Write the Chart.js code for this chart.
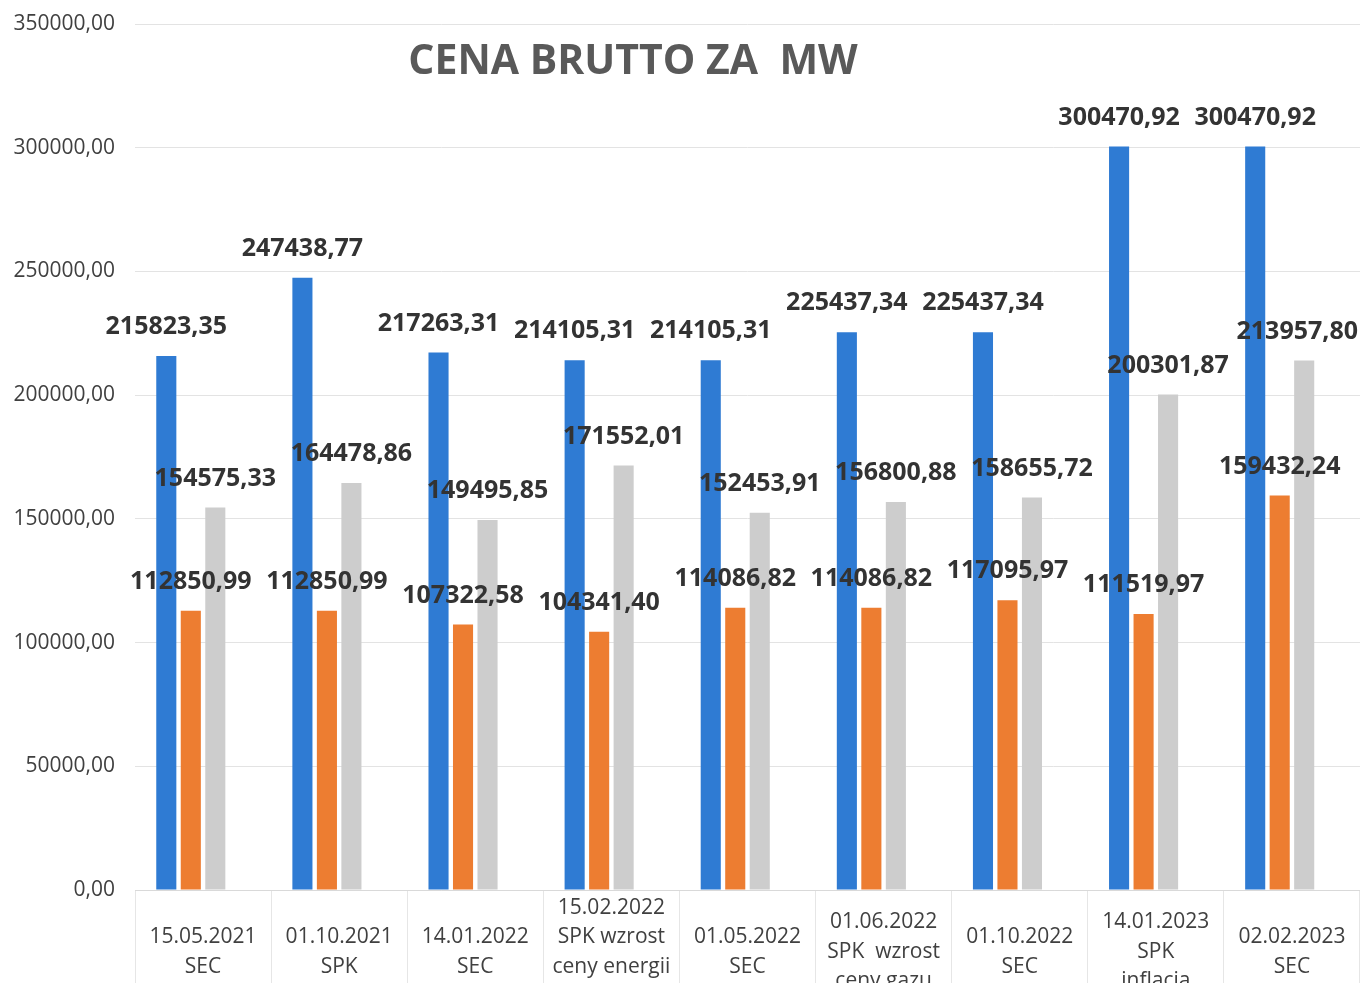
<!DOCTYPE html>
<html lang="pl">
<head>
<meta charset="utf-8">
<title>CENA BRUTTO ZA MW</title>
<script src="https://cdn.jsdelivr.net/npm/chart.js@4"></script>
<style>
    html, body { margin: 0; padding: 0; background: #fff; }
    #wrap { width: 1360px; height: 983px; }
</style>
</head>
<body>
<div id="wrap"><canvas id="barChart"></canvas></div>
<script>
/* ============================================================
   Dane
   ============================================================ */
const kategorie = [
    ['15.05.2021', 'SEC'],
    ['01.10.2021', 'SPK'],
    ['14.01.2022', 'SEC'],
    ['15.02.2022', 'SPK wzrost', 'ceny energii', ''],
    ['01.05.2022', 'SEC'],
    ['01.06.2022', 'SPK  wzrost', 'ceny gazu'],
    ['01.10.2022', 'SEC'],
    ['14.01.2023', 'SPK', 'inflacja'],
    ['02.02.2023', 'SEC']
];
const seriaNiebieska = [215823.35, 247438.77, 217263.31, 214105.31, 214105.31, 225437.34, 225437.34, 300470.92, 300470.92];
const seriaPomaranczowa = [112850.99, 112850.99, 107322.58, 104341.40, 114086.82, 114086.82, 117095.97, 111519.97, 159432.24];
const seriaSzara = [154575.33, 164478.86, 149495.85, 171552.01, 152453.91, 156800.88, 158655.72, 200301.87, 213957.80];
const seriaPusta = [];   // czwarta (pusta) seria z arkusza - zajmuje miejsce w grupie
const yTicks = [0, 50000, 100000, 150000, 200000, 250000, 300000, 350000];
const tytul = 'CENA BRUTTO ZA  MW';

const fmt = v => v.toFixed(2).replace('.', ',');

/* ============================================================
   Plugin - tytul, etykiety danych, etykiety osi
   ============================================================ */
const rysujTeksty = {
    id: 'rysujTeksty',
    afterDatasetsDraw(chart) {
        const ctx = chart.ctx;
        const area = chart.chartArea;
        ctx.save();
        ctx.textBaseline = 'middle';

        // etykiety osi Y
        const ys = chart.scales.y;
        ctx.font = '21px "Open Sans"';
        ctx.fillStyle = '#404040';
        ctx.textAlign = 'right';
        yTicks.forEach(v => ctx.fillText(fmt(v), area.left - 20, ys.getPixelForValue(v)));

        // tytul
        ctx.textAlign = 'center';
        ctx.font = 'bold 41px "Open Sans"';
        ctx.fillStyle = '#595959';
        ctx.fillText(tytul, 633, 62);

        // etykiety wartosci
        ctx.font = 'bold 25px "Open Sans"';
        ctx.fillStyle = '#333333';
        chart.data.datasets.forEach((ds, di) => {
            const meta = chart.getDatasetMeta(di);
            meta.data.forEach((bar, i) => {
                const v = ds.data[i];
                if (v == null) return;
                const txt = fmt(v);
                const w = ctx.measureText(txt).width;
                let x = bar.x;
                if (x + w / 2 > chart.width - 2) x = chart.width - 2 - w / 2;
                ctx.fillText(txt, x, bar.y - 29);
            });
        });

        // etykiety kategorii
        const xs = chart.scales.x;
        ctx.font = '21px "Open Sans"';
        ctx.fillStyle = '#404040';
        kategorie.forEach((linie, i) => {
            const cx = xs.getPixelForValue(i);
            const lh = 29.5;
            const y0 = area.bottom + 62 - (linie.length - 1) * lh / 2;
            linie.forEach((t, k) => ctx.fillText(t, cx, y0 + k * lh));
        });
        ctx.restore();
    }
};

/* ============================================================
   Wykres
   ============================================================ */
const ctx = document.getElementById('barChart').getContext('2d');
new Chart(ctx, {
    type: 'bar',
    data: {
        labels: kategorie.map(k => k.join(' ')),
        datasets: [
            { label: 'A', data: seriaNiebieska, backgroundColor: '#2F7BD3' },
            { label: 'B', data: seriaPomaranczowa, backgroundColor: '#ED7D31' },
            { label: 'C', data: seriaSzara, backgroundColor: '#CDCDCD' },
            { label: 'D', data: seriaPusta, backgroundColor: 'transparent' }
        ]
    },
    options: {
        responsive: true,
        maintainAspectRatio: false,
        animation: false,
        events: [],
        categoryPercentage: 0.72,
        barPercentage: 0.82,
        layout: { padding: { top: 24, right: 0, left: 0, bottom: 0 } },
        plugins: {
            legend: { display: false },
            tooltip: { enabled: false },
            title: { display: false }
        },
        scales: {
            x: {
                grid: {
                    offset: true,
                    drawOnChartArea: false,
                    tickLength: 93,
                    color: '#e6e6e6'
                },
                border: { color: '#d9d9d9' },
                ticks: { display: false }
            },
            y: {
                min: 0,
                max: 350000,
                afterBuildTicks: s => { s.ticks = yTicks.map(v => ({ value: v })); },
                afterFit: s => { s.width = 135; },
                grid: { drawTicks: false, color: '#e3e3e3' },
                border: { display: false },
                ticks: { display: false }
            }
        }
    },
    plugins: [rysujTeksty]
});
</script>
</body>
</html>
